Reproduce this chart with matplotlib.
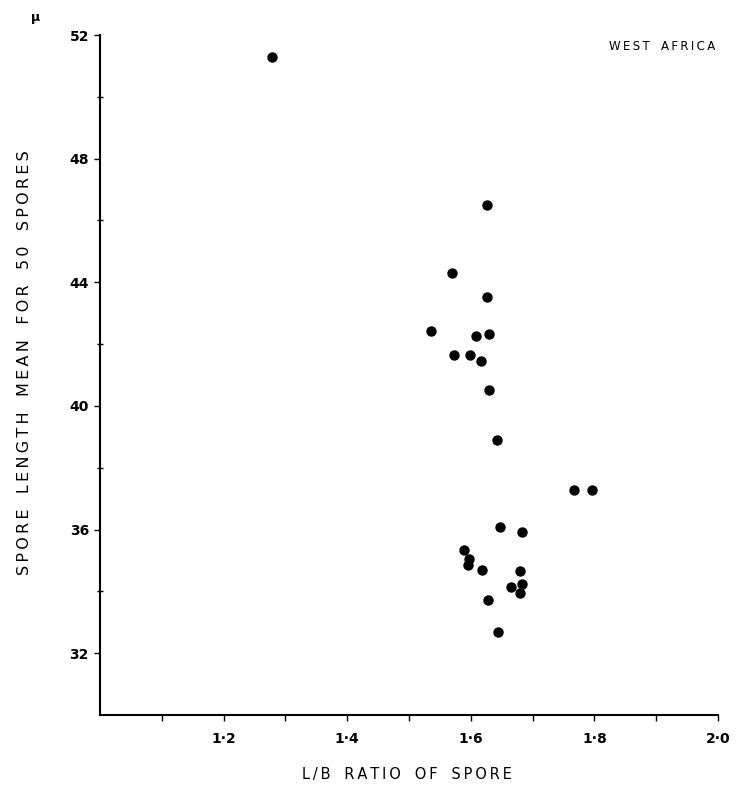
import matplotlib
matplotlib.use("Agg")
import matplotlib.pyplot as plt
from matplotlib.ticker import FixedLocator, FuncFormatter

lb_ratio = [1.278, 1.626, 1.570, 1.626, 1.536, 1.608, 1.629, 1.573, 1.599, 1.617,
            1.629, 1.642, 1.767, 1.796, 1.648, 1.683, 1.589, 1.597, 1.595, 1.618,
            1.680, 1.683, 1.665, 1.680, 1.628, 1.644]
spore_length = [51.29, 46.50, 44.30, 43.53, 42.43, 42.27, 42.33, 41.65, 41.65, 41.46,
                40.52, 38.90, 37.28, 37.28, 36.08, 35.92, 35.34, 35.05, 34.85, 34.69,
                34.66, 34.24, 34.14, 33.95, 33.72, 32.69]

x_major = [1.2, 1.4, 1.6, 1.8, 2.0]
x_minor = [1.1, 1.3, 1.5, 1.7, 1.9]
y_major = [32, 36, 40, 44, 48, 52]
y_minor = [34, 38, 42, 46, 50]

xlabel_text = "L/B  RATIO  OF  SPORE"
ylabel_text = "SPORE  LENGTH  MEAN  FOR  50  SPORES"
title_text = "WEST  AFRICA"


def spaced(s):
    words = s.split("  ")
    return "   ".join("\u2009".join(w) for w in words)


fig = plt.figure(figsize=(7.43, 7.87), dpi=100)
ax = fig.add_axes([0.1346, 0.0915, 0.8318, 0.864])
ax.scatter(lb_ratio, spore_length, s=42, color="black", zorder=3)

ax.set_xlim(1.0, 2.0)
ax.set_ylim(30, 52)
for s in ["top", "right"]:
    ax.spines[s].set_visible(False)
for s in ["left", "bottom"]:
    ax.spines[s].set_linewidth(1.5)

ax.xaxis.set_major_locator(FixedLocator(x_major))
ax.xaxis.set_minor_locator(FixedLocator(x_minor))
ax.yaxis.set_major_locator(FixedLocator(y_major))
ax.yaxis.set_minor_locator(FixedLocator(y_minor))


def xfmt(v, pos):
    return f"{v:.1f}".replace(".", "\u00b7")


ax.xaxis.set_major_formatter(FuncFormatter(xfmt))
ax.yaxis.set_major_formatter(FuncFormatter(lambda v, p: f"{int(v)}"))

ax.tick_params(axis="x", which="both", direction="out", length=4, width=1, labelsize=10, pad=8)
ax.tick_params(axis="y", which="major", direction="out", length=4, width=1, labelsize=10, pad=4)
ax.tick_params(axis="y", which="minor", direction="inout", length=4, width=1)
for lab in ax.get_xticklabels() + ax.get_yticklabels():
    lab.set_fontweight("bold")

fig.text(407 / 743, 1 - 775 / 787, spaced(xlabel_text), ha="center", va="center", fontsize=10.5)
fig.text(25 / 743, 1 - 363 / 787, spaced(ylabel_text), ha="center", va="center",
         rotation=90, fontsize=11.5)

fig.text(715 / 743, 1 - 46 / 787, spaced(title_text), ha="right", va="center", fontsize=8.5)
fig.text(36 / 743, 1 - 18 / 787, "\u03bc", ha="center", va="center", fontsize=9, fontweight="bold")

fig.savefig("out.png", dpi=100)
